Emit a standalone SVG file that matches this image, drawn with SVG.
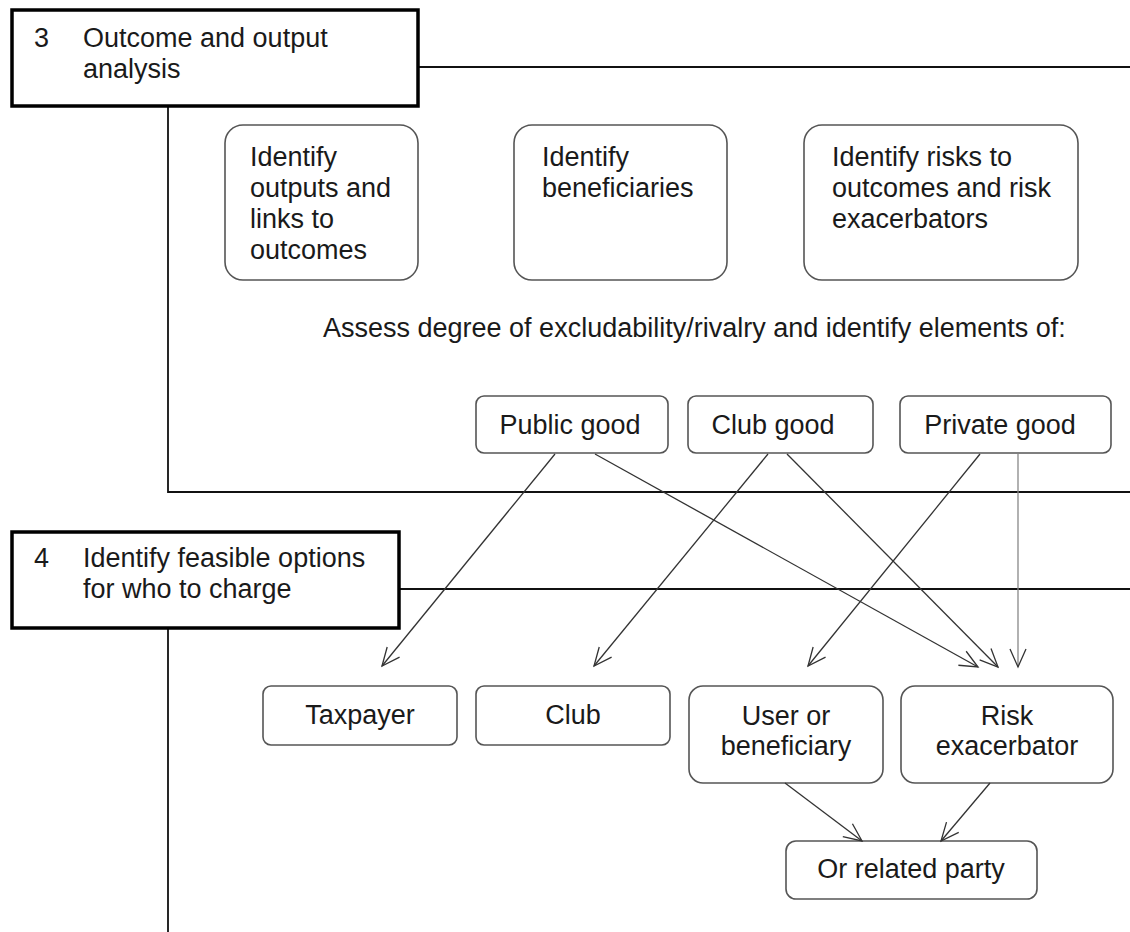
<svg xmlns="http://www.w3.org/2000/svg" width="1130" height="932" viewBox="0 0 1130 932">
<style>
text{font-family:"Liberation Sans",Arial,sans-serif;font-size:27px;fill:#1a1a1a}
.hdr{fill:#fff;stroke:#000;stroke-width:3.5}
.node{fill:#fff;stroke:#555;stroke-width:1.6}
.frame{fill:none;stroke:#111;stroke-width:1.8}
.mid{text-anchor:middle}
.arr{fill:none;stroke:#333;stroke-width:1.3;marker-end:url(#ah)}
</style>
<defs>
<marker id="ah" viewBox="-20 -10 22 20" refX="0" refY="0" markerWidth="22" markerHeight="20" markerUnits="userSpaceOnUse" orient="auto">
<path d="M-18,-8 L0,0 L-18,8" fill="none" stroke="#333" stroke-width="1.3"/>
</marker>
</defs>
<rect width="1130" height="932" fill="#fff"/>
<g id="frames">
<path class="frame" d="M418,67 H1130 M168,106 V492 H1130"/>
<path class="frame" d="M399,589 H1130 M168,629 V932"/>
</g>
<g id="step3">
<rect class="hdr" x="12" y="10" width="406" height="96"/>
<text x="34" y="47">3</text>
<text x="83" y="47">Outcome and output</text>
<text x="83" y="78">analysis</text>
</g>
<g id="step4">
<rect class="hdr" x="12" y="532" width="387" height="96"/>
<text x="34" y="567">4</text>
<text x="83" y="567">Identify feasible options</text>
<text x="83" y="598">for who to charge</text>
</g>
<g id="outputs">
<rect class="node" x="225" y="125" width="193" height="155" rx="18"/>
<text x="250" y="166">Identify</text>
<text x="250" y="197">outputs and</text>
<text x="250" y="228">links to</text>
<text x="250" y="259">outcomes</text>
</g>
<g id="beneficiaries">
<rect class="node" x="514" y="125" width="213" height="155" rx="18"/>
<text x="542" y="166">Identify</text>
<text x="542" y="197">beneficiaries</text>
</g>
<g id="risks">
<rect class="node" x="804" y="125" width="274" height="155" rx="18"/>
<text x="832" y="166">Identify risks to</text>
<text x="832" y="197">outcomes and risk</text>
<text x="832" y="228">exacerbators</text>
</g>
<g id="assess">
<text x="323" y="337">Assess degree of excludability/rivalry and identify elements of:</text>
</g>
<g id="public">
<rect class="node" x="476" y="396" width="192" height="57" rx="8"/>
<text class="mid" x="570" y="434">Public good</text>
</g>
<g id="clubgood">
<rect class="node" x="688" y="396" width="185" height="57" rx="8"/>
<text class="mid" x="773" y="434">Club good</text>
</g>
<g id="private">
<rect class="node" x="900" y="396" width="211" height="57" rx="8"/>
<text class="mid" x="1000" y="434">Private good</text>
</g>
<g id="taxpayer">
<rect class="node" x="263" y="686" width="194" height="59" rx="8"/>
<text class="mid" x="360" y="724">Taxpayer</text>
</g>
<g id="club">
<rect class="node" x="476" y="686" width="194" height="59" rx="8"/>
<text class="mid" x="573" y="724">Club</text>
</g>
<g id="user">
<rect class="node" x="689" y="686" width="194" height="97" rx="14"/>
<text class="mid" x="786" y="725">User or</text>
<text class="mid" x="786" y="755">beneficiary</text>
</g>
<g id="risk">
<rect class="node" x="901" y="686" width="212" height="97" rx="14"/>
<text class="mid" x="1007" y="725">Risk</text>
<text class="mid" x="1007" y="755">exacerbator</text>
</g>
<g id="related">
<rect class="node" x="786" y="841" width="251" height="58" rx="10"/>
<text class="mid" x="911" y="878">Or related party</text>
</g>
<g id="connectors">
<line class="arr" x1="555" y1="454" x2="382" y2="666"/>
<line class="arr" x1="595" y1="454" x2="978" y2="667"/>
<line class="arr" x1="768" y1="454" x2="594" y2="666"/>
<line class="arr" x1="787" y1="454" x2="998" y2="667"/>
<line class="arr" x1="980" y1="454" x2="808" y2="666"/>
<line class="arr" x1="1018" y1="454" x2="1018" y2="667" style="stroke:#888"/>
<line class="arr" x1="785" y1="783" x2="862" y2="841"/>
<line class="arr" x1="990" y1="783" x2="941" y2="841"/>
</g>
</svg>
